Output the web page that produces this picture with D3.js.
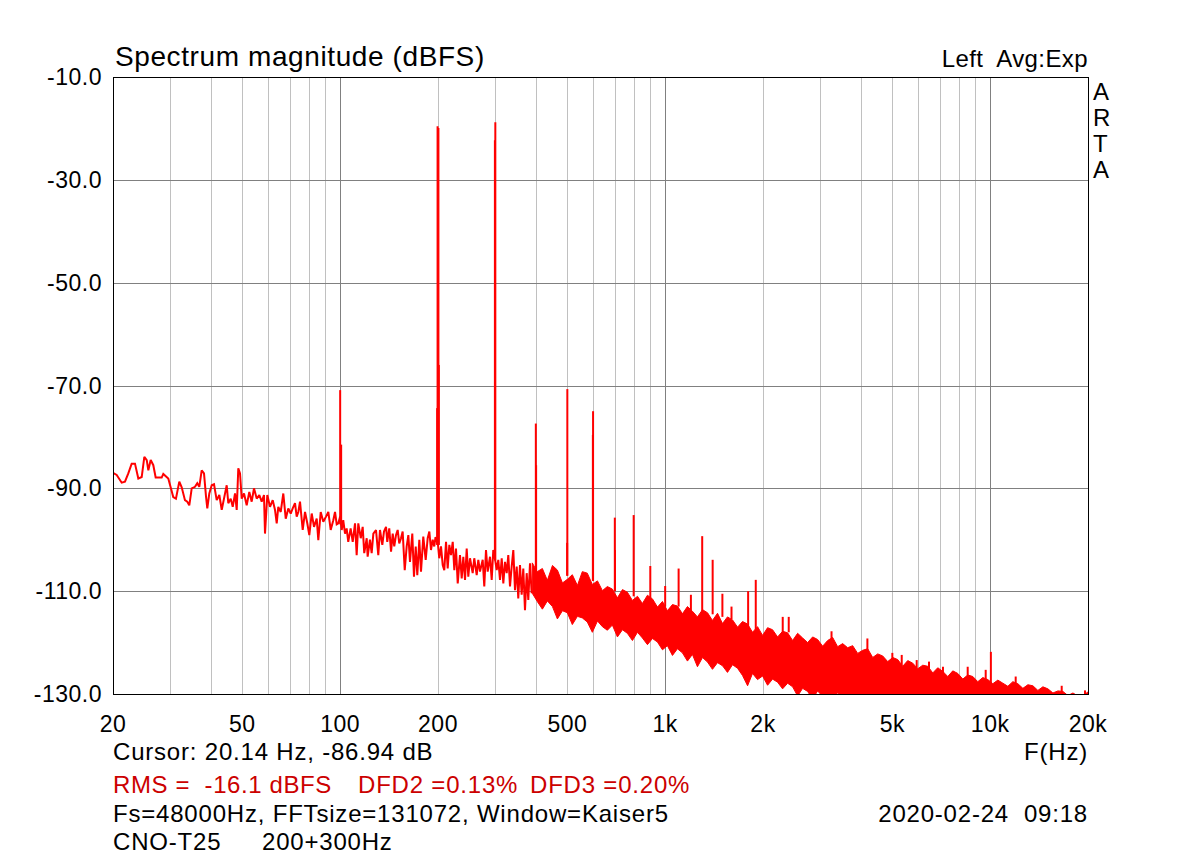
<!DOCTYPE html>
<html><head><meta charset="utf-8">
<script src="https://cdn.jsdelivr.net/npm/d3@7"></script>
<style>
body{margin:0;background:#fff}
svg text{font-family:"Liberation Sans",Arial,sans-serif;white-space:pre}
</style>
</head><body>
<svg id="c" width="1200" height="860"></svg>
<script>
// ---- low-frequency trace (Hz, dBFS) ----
const lineFreq = [20.0,20.53,21.27,21.77,22.29,22.83,23.37,23.93,24.51,24.97,25.40,25.69,26.12,26.61,27.06,28.24,28.56,29.59,30.09,30.65,31.24,31.99,32.54,33.30,33.85,34.34,34.93,35.75,36.34,36.86,37.49,38.11,38.66,39.01,39.57,40.25,40.91,41.70,42.48,43.21,43.91,44.76,45.27,46.05,46.71,47.48,48.05,48.59,49.19,49.78,50.60,51.57,52.53,53.43,54.30,55.36,56.39,57.35,58.29,58.71,59.68,60.83,62.01,63.03,63.79,64.51,65.62,66.84,68.00,69.25,70.44,71.44,72.62,73.49,74.34,75.24,76.69,77.96,79.22,80.36,81.74,83.09,84.69,85.65,87.13,88.74,90.46,91.95,93.51,95.25,96.42,97.58,98.7,100.0,101.1,102.2,103.5,104.7,105.9,107.7,109.3,111.1,112.4,113.7,115.7,117.3,118.6,120.7,121.5,123.5,125.0,126.5,128.9,131.0,132.6,134.8,136.4,138.4,139.6,141.6,143.4,145.1,146.7,148.5,150.3,152.0,153.9,155.7,158.0,160.2,162.1,164.0,166.7,168.7,170.8,172.7,175.2,177.3,180.2,183.3,185.9,188.1,190.3,192.6,194.8,196.5,200.0,201.8,204.3,206.8,209.1,211.7,214.2,216.7,219.3,222.0,224.5,227.2,230.0,233.7,236.6,239.3,242.2,245.1,247.9,250.9,255.7,258.6,263.1,266.1,269.3,274.5,277.6,281.0,284.4,289.1,292.6,295.9,300.0,303.1,306.6,310.3,314.1,317.7,321.5,325.4,329.1,333.1,337.1,341.0,345.1,349.3,353.2,357.5,361.8,366.0,370.4,374.9,379.2,383.8,388.4];
const lineDb = [-87.0,-87.4,-88.9,-88.7,-87.1,-85.2,-85.2,-88.1,-87.8,-83.9,-84.5,-86.5,-84.5,-85.5,-87.9,-87.9,-87.2,-88.1,-89.8,-91.7,-92.0,-88.7,-89.8,-92.3,-92.6,-93.3,-90.0,-89.7,-89.0,-89.7,-86.5,-87.1,-91.6,-93.9,-91.0,-89.4,-89.2,-92.3,-91.3,-94.2,-92.0,-89.4,-92.9,-92.0,-93.6,-91.0,-94.2,-86.1,-87.1,-92.0,-91.0,-93.3,-90.7,-92.6,-90.0,-92.0,-91.3,-92.6,-91.3,-98.8,-91.3,-93.6,-92.3,-94.2,-96.8,-93.6,-94.6,-91.0,-95.9,-93.9,-94.9,-93.9,-92.9,-95.5,-94.6,-92.6,-98.1,-94.6,-96.8,-99.1,-94.9,-97.5,-95.9,-100.1,-94.6,-96.5,-95.5,-94.6,-98.1,-96.2,-94.6,-97.0,-96.8,-95.5,-98.1,-96.2,-98.8,-97.8,-100.4,-97.8,-100.4,-96.8,-103.0,-96.8,-99.7,-97.5,-102.6,-99.7,-103.3,-100.0,-102.6,-98.8,-98.1,-103.0,-98.1,-101.0,-98.4,-97.5,-100.4,-97.8,-102.3,-98.8,-101.3,-99.1,-98.1,-100.7,-99.7,-98.4,-105.9,-101.3,-99.1,-104.3,-98.8,-107.2,-101.3,-106.9,-100.0,-106.2,-99.4,-103.9,-99.7,-98.4,-102.0,-100.0,-101.3,-99.5,-101.0,-103.6,-101.3,-104.9,-105.9,-100.4,-105.6,-101.0,-103.0,-100.4,-105.9,-101.7,-108.5,-103.0,-107.5,-103.3,-107.8,-101.7,-107.2,-103.6,-106.5,-103.6,-106.9,-103.9,-106.2,-103.9,-109.1,-102.0,-106.2,-103.3,-107.8,-102.0,-104.0,-105.9,-103.9,-107.8,-103.6,-108.5,-104.3,-106.5,-103.0,-109.1,-105.2,-102.0,-109.8,-105.2,-111.4,-104.9,-110.7,-105.6,-113.7,-106.5,-111.7,-104.6,-110.4];

// ---- dense noise band above ~390 Hz: upper / lower envelope (dBFS) ----
const bandFreq = [390,404,419,434,450,466,483,500,518,537,556,576,597,619,641,664,688,713,739,765,793,822,851,882,914,947,981,1016,1053,1091,1130,1171,1213,1257,1303,1350,1398,1449,1501,1555,1612,1670,1730,1793,1857,1924,1994,2066,2140,2218,2298,2381,2467,2556,2648,2744,2843,2945,3052,3162,3276,3394,3517,3644,3775,3912,4053,4199,4351,4508,4670,4839,5014,5195,5382,5577,5778,5986,6202,6426,6658,6899,7148,7406,7673,7950,8237,8535,8843,9162,9493,9836,10191,10559,10940,11335,11744,12168,12608,13063,13535,14023,14530,15054,15598,16161,16745,17349,17976,18625,19297,20000];
const bandTop = [-104.5,-106.2,-105.6,-107.9,-105.0,-105.9,-108.4,-107.7,-106.8,-108.9,-106.2,-106.5,-108.7,-108.0,-109.9,-109.1,-109.6,-111.3,-109.7,-110.2,-111.8,-111.0,-112.4,-110.8,-111.5,-113.1,-112.0,-113.8,-112.6,-112.9,-114.4,-113.0,-113.9,-115.0,-113.6,-114.2,-115.7,-114.3,-116.3,-115.0,-115.6,-117.0,-115.9,-116.4,-118.0,-116.9,-118.6,-117.1,-117.5,-118.9,-117.8,-118.1,-119.6,-118.2,-119.1,-120.0,-118.9,-119.4,-120.7,-119.6,-119.0,-120.8,-120.2,-121.0,-120.6,-122.1,-121.5,-121.2,-122.9,-122.2,-122.6,-123.7,-122.9,-123.3,-124.6,-123.5,-124.0,-125.1,-124.4,-124.6,-125.9,-124.9,-125.6,-126.6,-125.5,-126.0,-127.1,-126.3,-126.6,-127.6,-126.8,-127.2,-128.0,-127.3,-127.9,-128.5,-127.6,-128.0,-128.9,-128.2,-128.4,-129.3,-128.6,-129.0,-129.8,-129.4,-129.5,-130.3,-129.8,-130.4,-130.3,-129.6];
const bandBottom = [-110.4,-112.0,-113.5,-111.9,-113.0,-115.4,-113.8,-114.2,-116.5,-114.9,-115.2,-116.0,-118.0,-115.8,-116.9,-117.6,-116.6,-118.9,-117.5,-118.2,-119.6,-118.0,-119.1,-120.4,-119.2,-119.9,-121.4,-120.6,-122.5,-121.2,-122.0,-123.6,-122.3,-124.7,-122.9,-123.8,-125.2,-123.9,-124.5,-125.8,-124.3,-125.0,-126.4,-128.4,-126.0,-127.2,-126.5,-128.3,-127.1,-127.7,-129.0,-127.9,-128.6,-130.4,-128.9,-129.5,-131.0,-129.4,-130.5,-132,-132,-129.6,-132,-132,-132,-132,-132,-132,-132,-132,-132,-132,-132,-132,-132,-132,-132,-132,-132,-132,-132,-132,-132,-132,-132,-132,-132,-132,-132,-132,-132,-132,-132,-132,-132,-132,-132,-132,-132,-132,-132,-132,-132,-132,-132,-132,-132,-132,-132,-132,-132,-132];

// ---- discrete spectral lines: tone, harmonics, IMD products, small spurs ----
const peakFreq   = [100,100.7,198.8,199.4,200.6,201.2,299.3,300.2,400,400.8,499.3,500,599.2,600,700,701,800,900,1000,1100,1200,1300,1400,1500,1600,1800,1900,2300,2400,3250,4190,5000,5344,5942,6484,7158,8528,9688,10050,11982,16600,19580];
const peakDb     = [-70.9,-81.5,-74.4,-19.6,-19.9,-66.0,-22.3,-18.8,-77.4,-85.5,-100.6,-70.7,-79.6,-75.0,-95.7,-102.0,-95.2,-105.1,-109.0,-105.6,-110.7,-99.3,-103.9,-110.5,-113.0,-110.0,-107.8,-115.0,-115.0,-117.8,-119.2,-122.0,-122.4,-123.4,-123.7,-124.7,-124.7,-125.3,-121.8,-126.6,-128.4,-129.3];
const peakBaseDb = [-97,-97,-101,-101,-101,-101,-104,-104,-106,-106,-107,-107,-108,-108,-110,-110,-111,-112,-113,-113,-114,-114,-114.5,-115,-115.5,-117,-117.5,-118,-118,-120,-122,-124,-124.5,-125,-125.5,-126.5,-127.5,-128,-128,-128.5,-130,-130];

// ---- axes ----
const yTicks = [-10,-30,-50,-70,-90,-110,-130];
const yTickLabels = ["-10.0","-30.0","-50.0","-70.0","-90.0","-110.0","-130.0"];
const xTicks = [20,50,100,200,500,1000,2000,5000,10000,20000];
const xTickLabels = ["20","50","100","200","500","1k","2k","5k","10k","20k"];

const svg = d3.select("#c");
const L = 113, R = 1088, T = 77, B = 694;
const x = d3.scaleLog().domain([20,20000]).range([L,R]);
const y = d3.scaleLinear().domain([-130,-10]).range([B,T]);
const red = "#ff0000";

svg.append("defs").append("clipPath").attr("id","clip")
  .append("rect").attr("x",L).attr("y",T).attr("width",R-L).attr("height",B-T);

// vertical grid
const grid = svg.append("g");
x.ticks().filter(f => f > 20 && f < 20000).forEach(f => {
  const dec = Math.abs(Math.log10(f) - Math.round(Math.log10(f))) < 1e-9;
  grid.append("line")
    .attr("x1", Math.round(x(f)) + 0.5).attr("x2", Math.round(x(f)) + 0.5)
    .attr("y1", T).attr("y2", B)
    .attr("stroke", dec ? "#808080" : "#c0c0c0").attr("stroke-width", 1);
});
// horizontal grid
yTicks.slice(1, -1).forEach(v => {
  grid.append("line")
    .attr("x1", L).attr("x2", R)
    .attr("y1", Math.round(y(v)) + 0.5).attr("y2", Math.round(y(v)) + 0.5)
    .attr("stroke", "#808080").attr("stroke-width", 1);
});

const plot = svg.append("g").attr("clip-path","url(#clip)");

// band
const idx = d3.range(bandFreq.length);
plot.append("path")
  .attr("d", d3.area().x(i => x(bandFreq[i])).y0(i => y(bandBottom[i])).y1(i => y(bandTop[i]))(idx))
  .attr("fill", red).attr("stroke", red).attr("stroke-width", 1);

// low-frequency trace
const li = d3.range(lineFreq.length);
plot.append("path")
  .attr("d", d3.line().x(i => x(lineFreq[i])).y(i => y(lineDb[i]))(li))
  .attr("fill","none").attr("stroke", red).attr("stroke-width", 2)
  .attr("stroke-linejoin","miter").attr("stroke-miterlimit", 2);

// peaks
peakFreq.forEach((f, i) => {
  plot.append("line")
    .attr("x1", x(f)).attr("x2", x(f))
    .attr("y1", y(peakBaseDb[i])).attr("y2", y(peakDb[i]))
    .attr("stroke", red).attr("stroke-width", 2);
});

// frame
svg.append("rect").attr("x", L + 0.5).attr("y", T + 0.5).attr("width", R - L).attr("height", B - T)
  .attr("fill","none").attr("stroke","#000").attr("stroke-width",1);

// y tick labels
yTicks.forEach((v, i) => {
  svg.append("text").attr("x", 102).attr("y", y(v)).attr("dy","0.35em")
    .attr("text-anchor","end").attr("font-size", 23).attr("letter-spacing", 0.5).text(yTickLabels[i]);
});
// x tick labels
xTicks.forEach((f, i) => {
  svg.append("text").attr("x", x(f)).attr("y", 732)
    .attr("text-anchor","middle").attr("font-size", 23).attr("letter-spacing", 0.5).text(xTickLabels[i]);
});

// titles and annotations
const txt = (s, xx, yy, opt = {}) => svg.append("text").attr("x", xx).attr("y", yy)
  .attr("font-size", opt.size || 24).attr("letter-spacing", opt.ls == null ? 0.8 : opt.ls)
  .attr("text-anchor", opt.anchor || "start")
  .attr("fill", opt.color || "#000").text(s);

txt("Spectrum magnitude (dBFS)", 115, 66, {size: 28, ls: 0.6});
txt("Left  Avg:Exp", 1088, 67, {anchor: "end", ls: 0.4});
["A","R","T","A"].forEach((c, i) => txt(c, 1093, 100 + i * 26, {ls: 0}));
txt("F(Hz)", 1088, 760, {anchor: "end"});
txt("Cursor: 20.14 Hz, -86.94 dB", 113, 760);
const rc = "#cc0000";
txt("RMS =  -16.1 dBFS", 113, 793, {color: rc, ls: 0.6});
txt("DFD2 =0.13%", 358, 793, {color: rc});
txt("DFD3 =0.20%", 530, 793, {color: rc});
txt("Fs=48000Hz, FFTsize=131072, Window=Kaiser5", 113, 822);
txt("2020-02-24  09:18", 1088, 822, {anchor: "end"});
txt("CNO-T25", 113, 850);
txt("200+300Hz", 262, 850);
</script>
</body></html>
